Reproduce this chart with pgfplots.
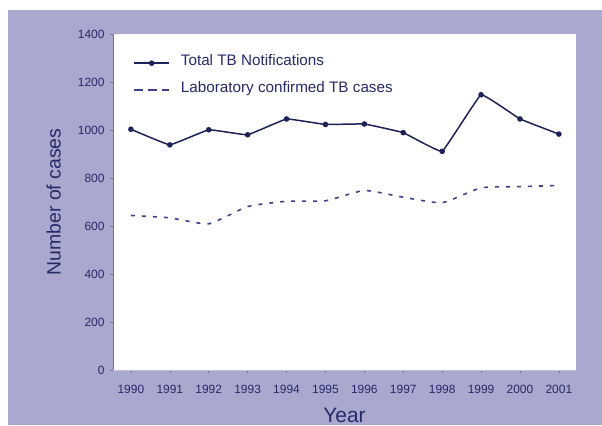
\documentclass[border=0pt]{standalone}
\usepackage{fontspec}
\setmainfont{Liberation Sans}
\usepackage{pgfplots}
\pgfplotsset{compat=1.18}
\definecolor{lav}{RGB}{170,168,206}
\definecolor{navy}{RGB}{38,42,105}
\definecolor{lineblue}{RGB}{30,34,88}
\definecolor{dotblue}{RGB}{62,64,140}
\definecolor{axgray}{RGB}{115,115,150}
\begin{document}
\begin{tikzpicture}[x=1bp,y=1bp]
\useasboundingbox (0,0) rectangle (602,425);
\fill[white] (0,0) rectangle (602,425);
\fill[lav] (8,0) rectangle (602,415);
\begin{axis}[
  at={(113bp,55bp)}, anchor=south west,
  scale only axis, width=463bp, height=336bp,
  xmin=1989.54, xmax=2001.44, ymin=0, ymax=1400,
  axis background/.style={fill=white},
  axis x line*=bottom, axis y line*=left,
  x axis line style={-, draw=axgray!45, line width=0.8bp},
  y axis line style={-, draw=axgray, line width=1bp},
  xtick={1990,1991,...,2001},
  ytick={0,200,...,1400},
  tick align=outside, major tick length=3bp,
  tick style={draw=axgray, line width=0.6bp},
  /pgf/number format/1000 sep={},
  /pgf/number format/assume math mode=true,
  scaled ticks=false,
  ticklabel style={font=\fontsize{12}{13}\selectfont, text=navy},
  x tick label style={yshift=-9bp},
  y tick label style={xshift=-2bp},
  xlabel={Year}, ylabel={Number of cases},
  xlabel style={font=\fontsize{21}{24}\selectfont, text=navy, at={(axis description cs:0.5,-0.155)}, anchor=base},
  ylabel style={font=\fontsize{19.5}{22}\selectfont, text=navy, at={(axis description cs:-0.128,0.5)}, anchor=center, rotate=0},
  legend style={at={(axis description cs:0.037,0.94)}, anchor=north west, draw=none, fill=none,
    font=\fontsize{15.3}{17}\selectfont, text=navy, row sep=13bp,
    nodes={inner sep=2bp, text depth=0.22em, text height=0.75em}},
  legend cell align=left,
  legend image code/.code={\draw[mark repeat=2,mark phase=2] plot coordinates {(0bp,0bp) (17.5bp,0bp) (35bp,0bp)};},
  /tikz/every even column/.append style={column sep=0bp},
]
\addplot[lineblue, line width=1.5bp, smooth, tension=0.12, mark=*, mark size=2bp, mark options={solid, fill=lineblue}]
  coordinates {(1990,1003) (1991,938) (1992,1001) (1993,980) (1994,1046) (1995,1023) (1996,1025) (1997,989) (1998,911) (1999,1147) (2000,1046) (2001,983)};
\addlegendentry{\hspace{9bp}Total TB Notifications}
\addplot[dotblue, line width=1.6bp, smooth, tension=0.3, dash pattern=on 4bp off 7bp, legend image post style={dash pattern=on 8bp off 6bp}]
  coordinates {(1990,644) (1991,634) (1992,609) (1993,681) (1994,703) (1995,705) (1996,748) (1997,720) (1998,697) (1999,759) (2000,764) (2001,769)};
\addlegendentry{\hspace{9bp}Laboratory confirmed TB cases}
\end{axis}
\end{tikzpicture}
\end{document}
